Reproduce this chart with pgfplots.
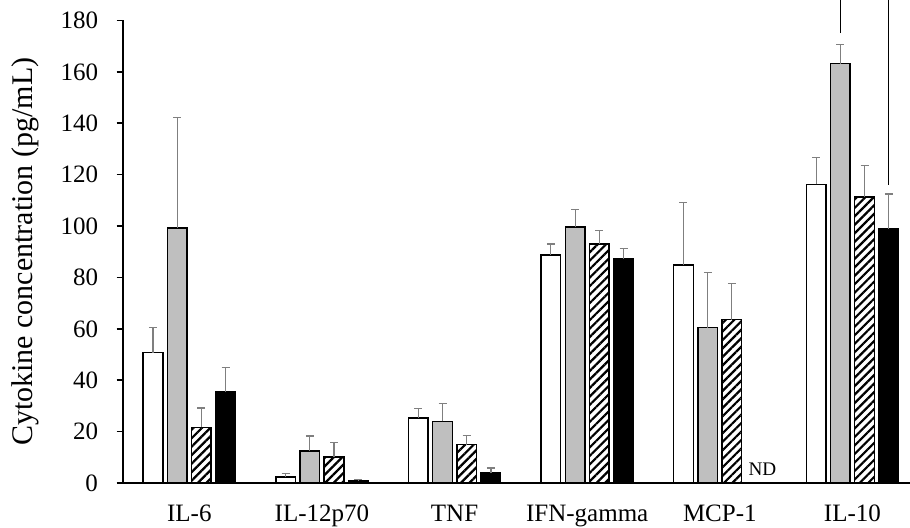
\documentclass[border=0pt]{standalone}
\usepackage{fontspec}
\setmainfont{Liberation Serif}
\usepackage{pgfplots}
\pgfplotsset{compat=1.18}
\usetikzlibrary{patterns.meta}
\definecolor{barGray}{HTML}{BFBFBF}
\definecolor{errGray}{HTML}{7F7F7F}
\begin{document}
\fontsize{12.3}{14}\selectfont
\begin{tikzpicture}
\useasboundingbox (0,0) rectangle (455pt,264pt);
\begin{axis}[
  at={(61.5pt,22.5pt)}, anchor=south west,
  scale only axis, width=393.5pt, height=231.25pt,
  xmin=-0.5, xmax=5.434, ymin=0, ymax=180,
  axis x line*=bottom, axis y line*=left,
  axis line style={line width=0.8pt},
  ytick={0,20,...,180},
  xtick={0,...,5},
  xticklabels={IL-6,IL-12p70,TNF,IFN-gamma,MCP-1,IL-10},
  major x tick style={draw=none},
  extra x ticks={-0.5,0.5,1.5,2.5,3.5,4.5},
  extra x tick labels={},
  extra x tick style={major tick length=3.5pt, tick style={line width=0.8pt, black}},
  tick align=outside,
  major tick length=3.2pt,
  y tick style={line width=0.8pt, black},
  /pgf/number format/assume math mode=true,
  tick label style={font=\fontsize{12.5}{14}\selectfont},
  yticklabel style={xshift=-5pt},
  xticklabel style={yshift=-3.5pt},
  ylabel={Cytokine concentration (pg/mL)},
  ylabel style={font=\fontsize{15}{17}\selectfont, yshift=2.5pt},
  clip=false,
  every axis plot/.append style={ybar, bar width=0.148, bar shift=0pt, line width=0.75pt, draw=black,
     error bars/y dir=plus, error bars/y explicit,
     error bars/error bar style={errGray, line width=0.6pt},
     error bars/error mark options={errGray, rotate=90, mark size=2pt, line width=0.6pt}},
]
% white
\addplot[fill=white] table[x=x, y=y, y error=e] {
x y e
-0.274 50.7 9.7
0.726 2.3 1.5
1.726 25.3 3.8
2.726 88.7 4.3
3.726 84.8 24.3
4.726 116.2 10.4
};
% gray
\addplot[fill=barGray] table[x=x, y=y, y error=e] {
x y e
-0.091 99.3 43.1
0.909 12.5 5.8
1.909 24.0 7.0
2.909 99.7 6.7
3.909 60.5 21.5
4.909 163.2 7.3
};
% hatched
\addplot[fill=white, postaction={pattern={Lines[angle=45, distance=3pt, line width=1.1pt]}}] table[x=x, y=y, y error=e] {
x y e
0.091 21.6 7.6
1.091 10.2 5.6
2.091 14.9 3.7
3.091 93.1 5.2
4.091 63.6 13.9
5.091 111.3 12.2
};
% black
\addplot[fill=black] table[x=x, y=y, y error=e] {
x y e
0.274 35.4 9.7
1.274 0.9 0.4
2.274 3.8 2.0
3.274 87.3 4.0
5.274 99.0 13.5
};
\addplot[black, line width=0.5pt, no marks, forget plot, sharp plot, error bars/y dir=none] coordinates {(4.909,175.1) (4.909,188)};
\addplot[black, line width=0.5pt, no marks, forget plot, sharp plot, error bars/y dir=none] coordinates {(5.274,116) (5.274,188)};
\node[anchor=base, font=\fontsize{9.6}{11}\selectfont] at (axis cs:4.321,2.8) {ND};
\end{axis}
\end{tikzpicture}
\end{document}
